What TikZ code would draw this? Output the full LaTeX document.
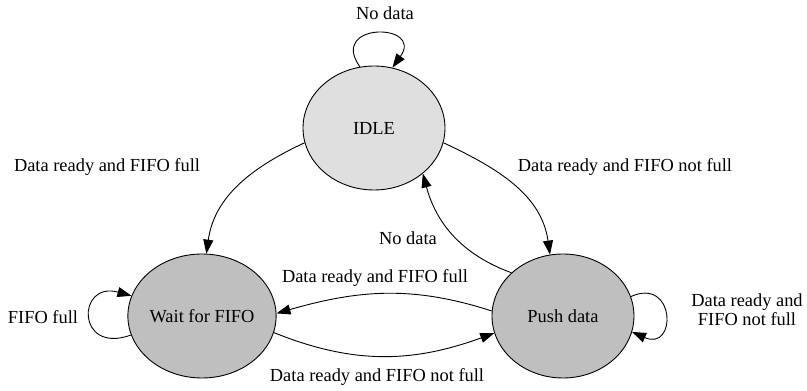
\documentclass[tikz,border=0pt]{standalone}
\usepackage{fontspec}
\setmainfont{Liberation Serif}
\usepackage{tikz}
\usetikzlibrary{shapes, arrows.meta, positioning}

\begin{document}
\begin{tikzpicture}[x=1pt, y=1pt,
    font=\fontsize{18.4}{19}\selectfont,
    state/.style={draw, ellipse, line width=0.9pt, inner sep=0pt, minimum width=142pt, minimum height=124pt},
    trans/.style={-{Triangle[length=14pt, width=10pt]}, line width=0.9pt}]
    \useasboundingbox (0,0) rectangle (807,391);

    % States
    \node[state, fill=gray!25] (idle) at (374,263) {IDLE};
    \node[state, fill=gray!50] (wait) at (202,75) {Wait for FIFO};
    \node[state, fill=gray!50] (push) at (563,75) {Push data};

    % Transitions
    \draw[trans] (idle.103) .. controls +(-32,45) and +(32,45) .. (idle.73);
    \draw[trans] (idle.192) to[out=205, in=82] (wait.86);
    \draw[trans] (idle.348) to[out=-25, in=98] (push.102);
    \draw[trans] (push.140) to[out=160, in=-75] (idle.317);
    \draw[trans] (push.176) to[out=162, in=16] (wait.2);
    \draw[trans] (wait.-13) to[out=-22, in=200] (push.194);
    \draw[trans] (wait.195) .. controls +(-55,-20) and +(-55,15) .. (wait.164);
    \draw[trans] (push.16) .. controls +(45,20) and +(45,-20) .. (push.-13);

    % Labels
    \node (lidle) at (385,378) {No data};
    \node (lidlewait) at (107,224) {Data ready and FIFO full};
    \node (lidlepush) at (625,224) {Data ready and FIFO not full};
    \node (lpushidle) at (408,153) {No data};
    \node (lpushwait) at (375,113) {Data ready and FIFO full};
    \node (lwaitpush) at (377,14) {Data ready and FIFO not full};
    \node (lwait) at (43,74) {FIFO full};
    \node[align=center] (lpush) at (747,81.5) {Data ready and\\FIFO not full};
\end{tikzpicture}
\end{document}
